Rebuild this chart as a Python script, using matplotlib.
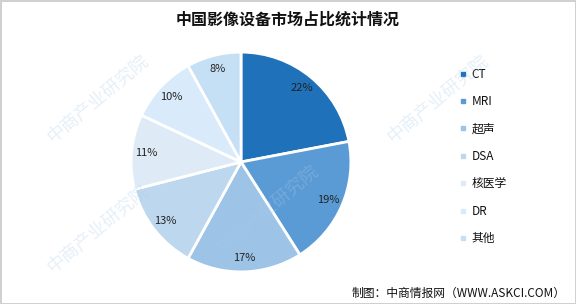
import matplotlib
matplotlib.use("Agg")
import matplotlib.pyplot as plt
from matplotlib.lines import Line2D

plt.rcParams['font.family'] = ['Noto Sans CJK SC', 'DejaVu Sans']

# data
labels = ['CT', 'MRI', '超声', 'DSA', '核医学', 'DR', '其他']
shares = [22, 19, 17, 13, 11, 10, 8]
colors = ['#1f71ba', '#5b9bd5', '#9dc3e6', '#bdd7ee', '#deebf7', '#d9eafa', '#c5dff5']

title = '中国影像设备市场占比统计情况'
source = '制图：中商情报网（WWW.ASKCI.COM）'
watermark = '中商产业研究院'

W, H = 576, 304
fig = plt.figure(figsize=(W / 100, H / 100), dpi=100)
fig.patch.set_edgecolor('#d0d0d0')
fig.patch.set_linewidth(2)

# pie axes: centre (241,162), radius 111 px
cx, cy, r = 241, 162, 111
ax = fig.add_axes([(cx - r) / W, (H - cy - r) / H, 2 * r / W, 2 * r / H])
wedges, texts, autotexts = ax.pie(
    shares, colors=colors, startangle=90, counterclock=False,
    autopct='%d%%', pctdistance=0.87, radius=1,
    wedgeprops=dict(edgecolor='white', linewidth=2),
    textprops=dict(fontsize=8, color='#222222'))
ax.set_aspect('equal')
ax.set_xlim(-1.01, 1.01)
ax.set_ylim(-1.01, 1.01)

fig.text(288 / W, 1 - 20 / H, title, ha='center', va='center',
         fontsize=11.5, fontweight='bold', color='#111111')

handles = [Line2D([], [], marker='s', linestyle='none', markersize=3.5,
                  markerfacecolor=c, markeredgecolor=c) for c in colors]
fig.legend(handles, labels, loc='upper left', bbox_to_anchor=(455 / W, 1 - 63 / H),
           frameon=False, fontsize=8.5, handlelength=0.6, handletextpad=0.4,
           labelspacing=1.22, borderaxespad=0, labelcolor='#111111')

fig.text(566 / W, 1 - 293 / H, source, ha='right', va='center',
         fontsize=8.5, color='#111111')

# faint watermarks
for wx, wy in [(50, 140), (50, 270), (220, 250), (390, 140)]:
    fig.text(wx / W, 1 - wy / H, watermark, rotation=40,
             rotation_mode='anchor', ha='left', va='center',
             fontsize=13, color='#a9cbe8', alpha=0.3, zorder=10)

fig.savefig('out.png', dpi=100)
